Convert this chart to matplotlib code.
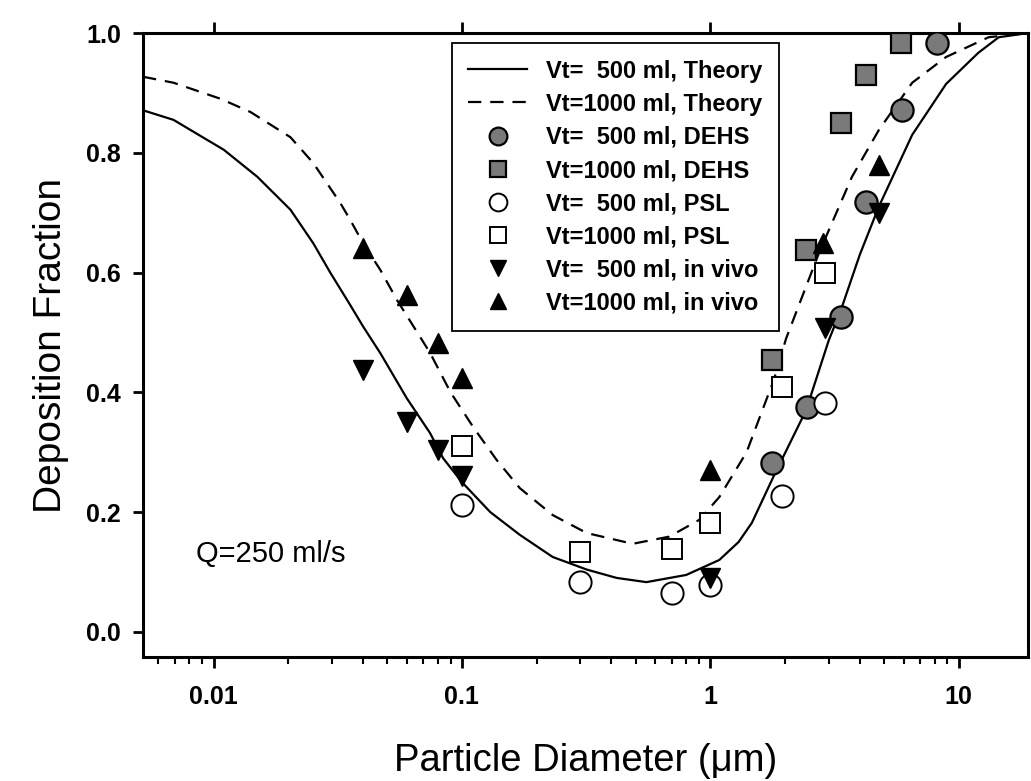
import matplotlib
matplotlib.use("Agg")
import matplotlib.pyplot as plt

plt.rcParams['font.family'] = ['Liberation Sans', 'DejaVu Sans']

# Theory curves
theory500_x = [0.0052, 0.0069, 0.011, 0.015, 0.0204, 0.0252, 0.0295, 0.035, 0.04, 0.047,
               0.06, 0.0744, 0.084, 0.1, 0.13, 0.171, 0.232, 0.318, 0.42, 0.553, 0.8,
               1.087, 1.3, 1.47, 1.8, 2.43, 3.0, 3.36, 4.0, 4.77, 6.5, 8.9, 12, 14.5, 19]
theory500_y = [0.871, 0.855, 0.805, 0.76, 0.705, 0.649, 0.60, 0.55, 0.51, 0.465,
               0.39, 0.332, 0.29, 0.25, 0.20, 0.162, 0.125, 0.104, 0.09, 0.083, 0.095,
               0.12, 0.15, 0.182, 0.26, 0.37, 0.487, 0.538, 0.63, 0.71, 0.83, 0.915, 0.967, 0.993, 1.0]

theory1000_x = [0.0052, 0.0069, 0.0107, 0.0141, 0.0204, 0.0252, 0.0324, 0.0355, 0.040, 0.047,
                0.0548, 0.0744, 0.09, 0.111, 0.138, 0.171, 0.232, 0.318, 0.487, 0.684, 0.903,
                1.087, 1.4, 1.62, 1.8, 2.02, 2.74, 3.72, 4.77, 6.5, 8.9, 13.2, 19]
theory1000_y = [0.927, 0.917, 0.89, 0.868, 0.826, 0.783, 0.716, 0.688, 0.649, 0.604,
                0.554, 0.466, 0.40, 0.342, 0.287, 0.24, 0.195, 0.165, 0.147, 0.159, 0.187,
                0.225, 0.30, 0.37, 0.42, 0.49, 0.633, 0.76, 0.838, 0.917, 0.96, 0.993, 1.0]

# Measurements
dehs500_x = [1.78, 2.45, 3.36, 4.23, 5.9, 8.2]
dehs500_y = [0.282, 0.376, 0.526, 0.718, 0.871, 0.983]
dehs1000_x = [1.78, 2.43, 3.36, 4.23, 5.85]
dehs1000_y = [0.454, 0.638, 0.85, 0.93, 0.983]
psl500_x = [0.1, 0.3, 0.7, 1.0, 1.95, 2.9]
psl500_y = [0.212, 0.083, 0.065, 0.078, 0.227, 0.382]
psl1000_x = [0.1, 0.3, 0.7, 1.0, 1.95, 2.9]
psl1000_y = [0.31, 0.134, 0.139, 0.182, 0.409, 0.599]
vivo500_x = [0.04, 0.06, 0.08, 0.1, 1.0, 2.9, 4.8]
vivo500_y = [0.437, 0.35, 0.304, 0.26, 0.09, 0.507, 0.70]
vivo1000_x = [0.04, 0.06, 0.08, 0.1, 1.0, 2.85, 4.8]
vivo1000_y = [0.641, 0.563, 0.482, 0.424, 0.27, 0.65, 0.78]

labels = ["Vt=  500 ml, Theory", "Vt=1000 ml, Theory",
          "Vt=  500 ml, DEHS", "Vt=1000 ml, DEHS",
          "Vt=  500 ml, PSL", "Vt=1000 ml, PSL",
          "Vt=  500 ml, in vivo", "Vt=1000 ml, in vivo"]

fig = plt.figure(figsize=(10.31, 7.81), dpi=100)
ax = fig.add_axes([0.1387, 0.1588, 0.8583, 0.7989])
ax.set_xscale('log')

ax.plot(theory500_x, theory500_y, color='black', lw=1.6, label=labels[0], zorder=2)
ax.plot(theory1000_x, theory1000_y, color='black', lw=1.6, dashes=(6, 4), label=labels[1], zorder=2)

ms = 16
ax.plot(dehs500_x, dehs500_y, 'o', ms=ms, mfc='#7a7a7a', mec='black', mew=1.6, label=labels[2], zorder=3)
ax.plot(dehs1000_x, dehs1000_y, 's', ms=ms - 2, mfc='#7a7a7a', mec='black', mew=1.6, label=labels[3], zorder=3)
ax.plot(psl500_x, psl500_y, 'o', ms=ms, mfc='white', mec='black', mew=1.4, label=labels[4], zorder=3)
ax.plot(psl1000_x, psl1000_y, 's', ms=ms - 2, mfc='white', mec='black', mew=1.4, label=labels[5], zorder=3)
ax.plot(vivo500_x, vivo500_y, 'v', ms=ms - 2, mfc='black', mec='black', label=labels[6], zorder=4)
ax.plot(vivo1000_x, vivo1000_y, '^', ms=ms - 2, mfc='black', mec='black', label=labels[7], zorder=4)

ax.set_xlim(0.0052, 19)
ax.set_ylim(-0.042, 1.0)

ax.set_xticks([0.01, 0.1, 1, 10])
ax.set_xticklabels(['0.01', '0.1', '1', '10'])
ax.set_yticks([0.0, 0.2, 0.4, 0.6, 0.8, 1.0])
ax.set_yticklabels(['0.0', '0.2', '0.4', '0.6', '0.8', '1.0'])

for lab in ax.get_xticklabels() + ax.get_yticklabels():
    lab.set_fontweight('bold')
    lab.set_fontsize(18)

ax.tick_params(axis='x', which='major', direction='out', length=8, width=2, pad=12)
ax.tick_params(axis='x', which='minor', direction='out', length=5, width=1.5)
ax.tick_params(axis='x', which='both', top=True)
ax.tick_params(axis='x', which='minor', top=False)
ax.tick_params(axis='y', which='major', direction='out', length=7, width=2, pad=9)

for s in ax.spines.values():
    s.set_linewidth(2.2)

ax.set_xlabel('Particle Diameter (\u03bcm)', fontsize=27.5, labelpad=25)
ax.set_ylabel('Deposition Fraction', fontsize=28, labelpad=12)

ax.text(0.0085, 0.13, 'Q=250 ml/s', fontsize=21, ha='left', va='center')

leg = ax.legend(loc='upper left', bbox_to_anchor=(0.349, 0.984), borderaxespad=0,
                frameon=True, fancybox=False, edgecolor='black', framealpha=1,
                prop={'weight': 'bold', 'size': 17}, handlelength=2.5,
                labelspacing=0.43, borderpad=0.7, handletextpad=0.8, markerscale=0.8)
leg.get_frame().set_linewidth(1.3)

fig.savefig('out.png', dpi=100)
